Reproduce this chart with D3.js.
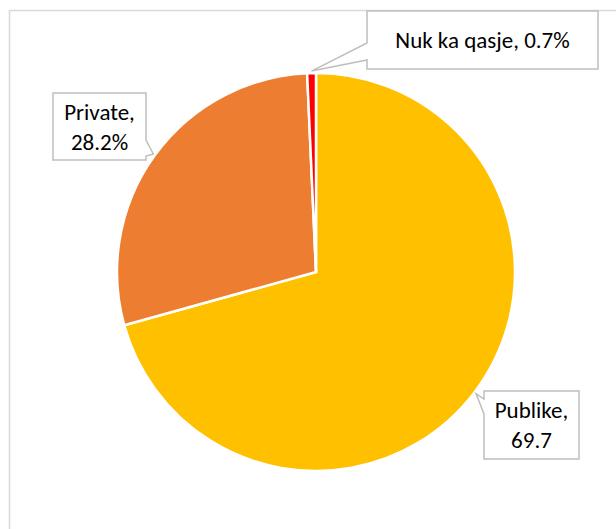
<!DOCTYPE html>
<html>
<head>
<meta charset="utf-8">
<script src="https://cdn.jsdelivr.net/npm/d3@7"></script>
<style>
  body { margin: 0; background: #fff; }
  text { font-family: Carlito, Calibri, "Noto Sans", sans-serif; fill: #000; }
</style>
</head>
<body>
<div id="chart"></div>
<script>
// data
const categories = ["Publike", "Private", "Nuk ka qasje"];
const values = [69.7, 28.2, 0.7];
const labelLines = [["Publike,", "69.7"], ["Private,", "28.2%"], ["Nuk ka qasje, 0.7%"]];
const colors = ["#FFC000", "#ED7D31", "#FF0000"];

const width = 616, height = 529;
const cx = 316, cy = 272, r = 199;

let svg = d3.select("#chart")
    .append("svg")
    .attr("width", width)
    .attr("height", height);

// chart area border (runs off the canvas on right and bottom)
svg.append("rect")
    .attr("x", 9.5)
    .attr("y", 10.5)
    .attr("width", 700)
    .attr("height", 600)
    .style("fill", "none")
    .style("stroke", "#D9D9D9")
    .style("stroke-width", 1.5);

let pie = d3.pie().sort(null)(values);
let arc = d3.arc().innerRadius(0).outerRadius(r);

let g = svg.append("g")
    .attr("transform", "translate(" + cx + "," + cy + ")");

g.selectAll(".slice")
    .data(pie)
    .enter()
    .append("path")
    .attr("class", "slice")
    .attr("d", arc)
    .style("fill", function (d, i) { return colors[i]; })
    .style("stroke", "#fff")
    .style("stroke-width", 2.5);

// callout boxes: box x, y, w, h, and pointer base on which side
const boxes = [
    { x: 484, y: 391, w: 95, h: 68, side: "left", b0: 399, b1: 414 },
    { x: 53, y: 93, w: 93, h: 67, side: "right", b0: 140, b1: 156 },
    { x: 367, y: 11, w: 231, h: 58, side: "left", b0: 43, b1: 60 }
];

function tipOf(d) {
    let a = (d.startAngle + d.endAngle) / 2;
    return [cx + (r + 2) * Math.sin(a), cy - (r + 2) * Math.cos(a)];
}

pie.forEach(function (d, i) {
    let b = boxes[i];
    let t = tipOf(d);
    let p;
    if (b.side === "left") {
        p = "M" + b.x + "," + b.y + "H" + (b.x + b.w) + "V" + (b.y + b.h) + "H" + b.x +
            "V" + b.b1 + "L" + t[0] + "," + t[1] + "L" + b.x + "," + b.b0 + "Z";
    } else {
        let xr = b.x + b.w;
        p = "M" + b.x + "," + b.y + "H" + xr + "V" + b.b0 + "L" + t[0] + "," + t[1] +
            "L" + xr + "," + b.b1 + "V" + (b.y + b.h) + "H" + b.x + "Z";
    }
    svg.append("path")
        .attr("d", p)
        .style("fill", "#fff")
        .style("stroke", "#BFBFBF")
        .style("stroke-width", 1.5);

    let lines = labelLines[i];
    let lh = 30;
    let y0 = b.y + b.h / 2 - (lines.length - 1) * lh / 2 + 8;
    lines.forEach(function (s, j) {
        svg.append("text")
            .attr("x", b.x + b.w / 2)
            .attr("y", y0 + j * lh)
            .attr("text-anchor", "middle")
            .style("font-size", "23px")
            .text(s);
    });
});
</script>
</body>
</html>
